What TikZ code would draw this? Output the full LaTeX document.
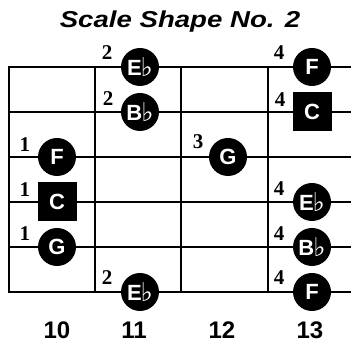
\documentclass[tikz,border=0pt]{standalone}
\usepackage{fontspec}
\setmainfont{Liberation Serif}
\setsansfont{Liberation Sans}
\newfontfamily\flatfont{DejaVu Sans}
\newcommand{\fl}{\kern-1pt\raisebox{-1pt}{\scalebox{1.3}{\flatfont\bfseries\fontsize{20}{20}\selectfont ♭}}}
\tikzset{
  gridline/.style={line width=2.4pt, line cap=rect},
  cnote/.style={circle, fill=black, minimum size=38pt, inner sep=0pt, text=white,
    font=\sffamily\bfseries\fontsize{22}{22}\selectfont},
  snote/.style={rectangle, fill=black, minimum size=39pt, inner sep=0pt, text=white,
    font=\sffamily\bfseries\fontsize{22}{22}\selectfont},
  finger/.style={inner sep=0pt, font=\rmfamily\bfseries\fontsize{21}{21}\selectfont},
  fretnum/.style={inner sep=0pt, font=\sffamily\bfseries\fontsize{24}{24}\selectfont},
}
\begin{document}
\begin{tikzpicture}[x=1pt,y=-1pt]
\useasboundingbox (0,0) rectangle (351,344);
\fill[white] (0,0) rectangle (351,344);
% title
\node (title) at (180,22) {\scalebox{1.2}[1]{\sffamily\bfseries\itshape\fontsize{23}{23}\selectfont Scale Shape No. 2}};
% strings
\foreach \y in {67,112,157,202,247,292} \draw[gridline] (9,\y) -- (352,\y);
% frets
\foreach \x in {9,95,181,268} \draw[gridline] (\x,67) -- (\x,292);
% notes
\node[cnote] (s1a) at (140,67) {E\fl};
\node[cnote] (s1b) at (312,67) {F};
\node[cnote] (s2a) at (140,112) {B\fl};
\node[snote] (s2b) at (312,112) {C};
\node[cnote] (s3a) at (57,157) {F};
\node[cnote] (s3b) at (228,157) {G};
\node[snote] (s4a) at (57,202) {C};
\node[cnote] (s4b) at (312,202) {E\fl};
\node[cnote] (s5a) at (57,247) {G};
\node[cnote] (s5b) at (312,247) {B\fl};
\node[cnote] (s6a) at (140,292) {E\fl};
\node[cnote] (s6b) at (312,292) {F};
% finger numbers
\node[finger] (f1a) at (107,53) {2};
\node[finger] (f1b) at (279,53) {4};
\node[finger] (f2a) at (108,99) {2};
\node[finger] (f2b) at (280,100) {4};
\node[finger] (f3a) at (25,145) {1};
\node[finger] (f3b) at (198,142) {3};
\node[finger] (f4a) at (25,190) {1};
\node[finger] (f4b) at (279,189) {4};
\node[finger] (f5a) at (25,234) {1};
\node[finger] (f5b) at (279,234) {4};
\node[finger] (f6a) at (107,278) {2};
\node[finger] (f6b) at (279,278) {4};
% fret numbers
\node[fretnum] (n10) at (57,330) {10};
\node[fretnum] (n11) at (134,330) {11};
\node[fretnum] (n12) at (222,330) {12};
\node[fretnum] (n13) at (310,330) {13};
\end{tikzpicture}
\end{document}
